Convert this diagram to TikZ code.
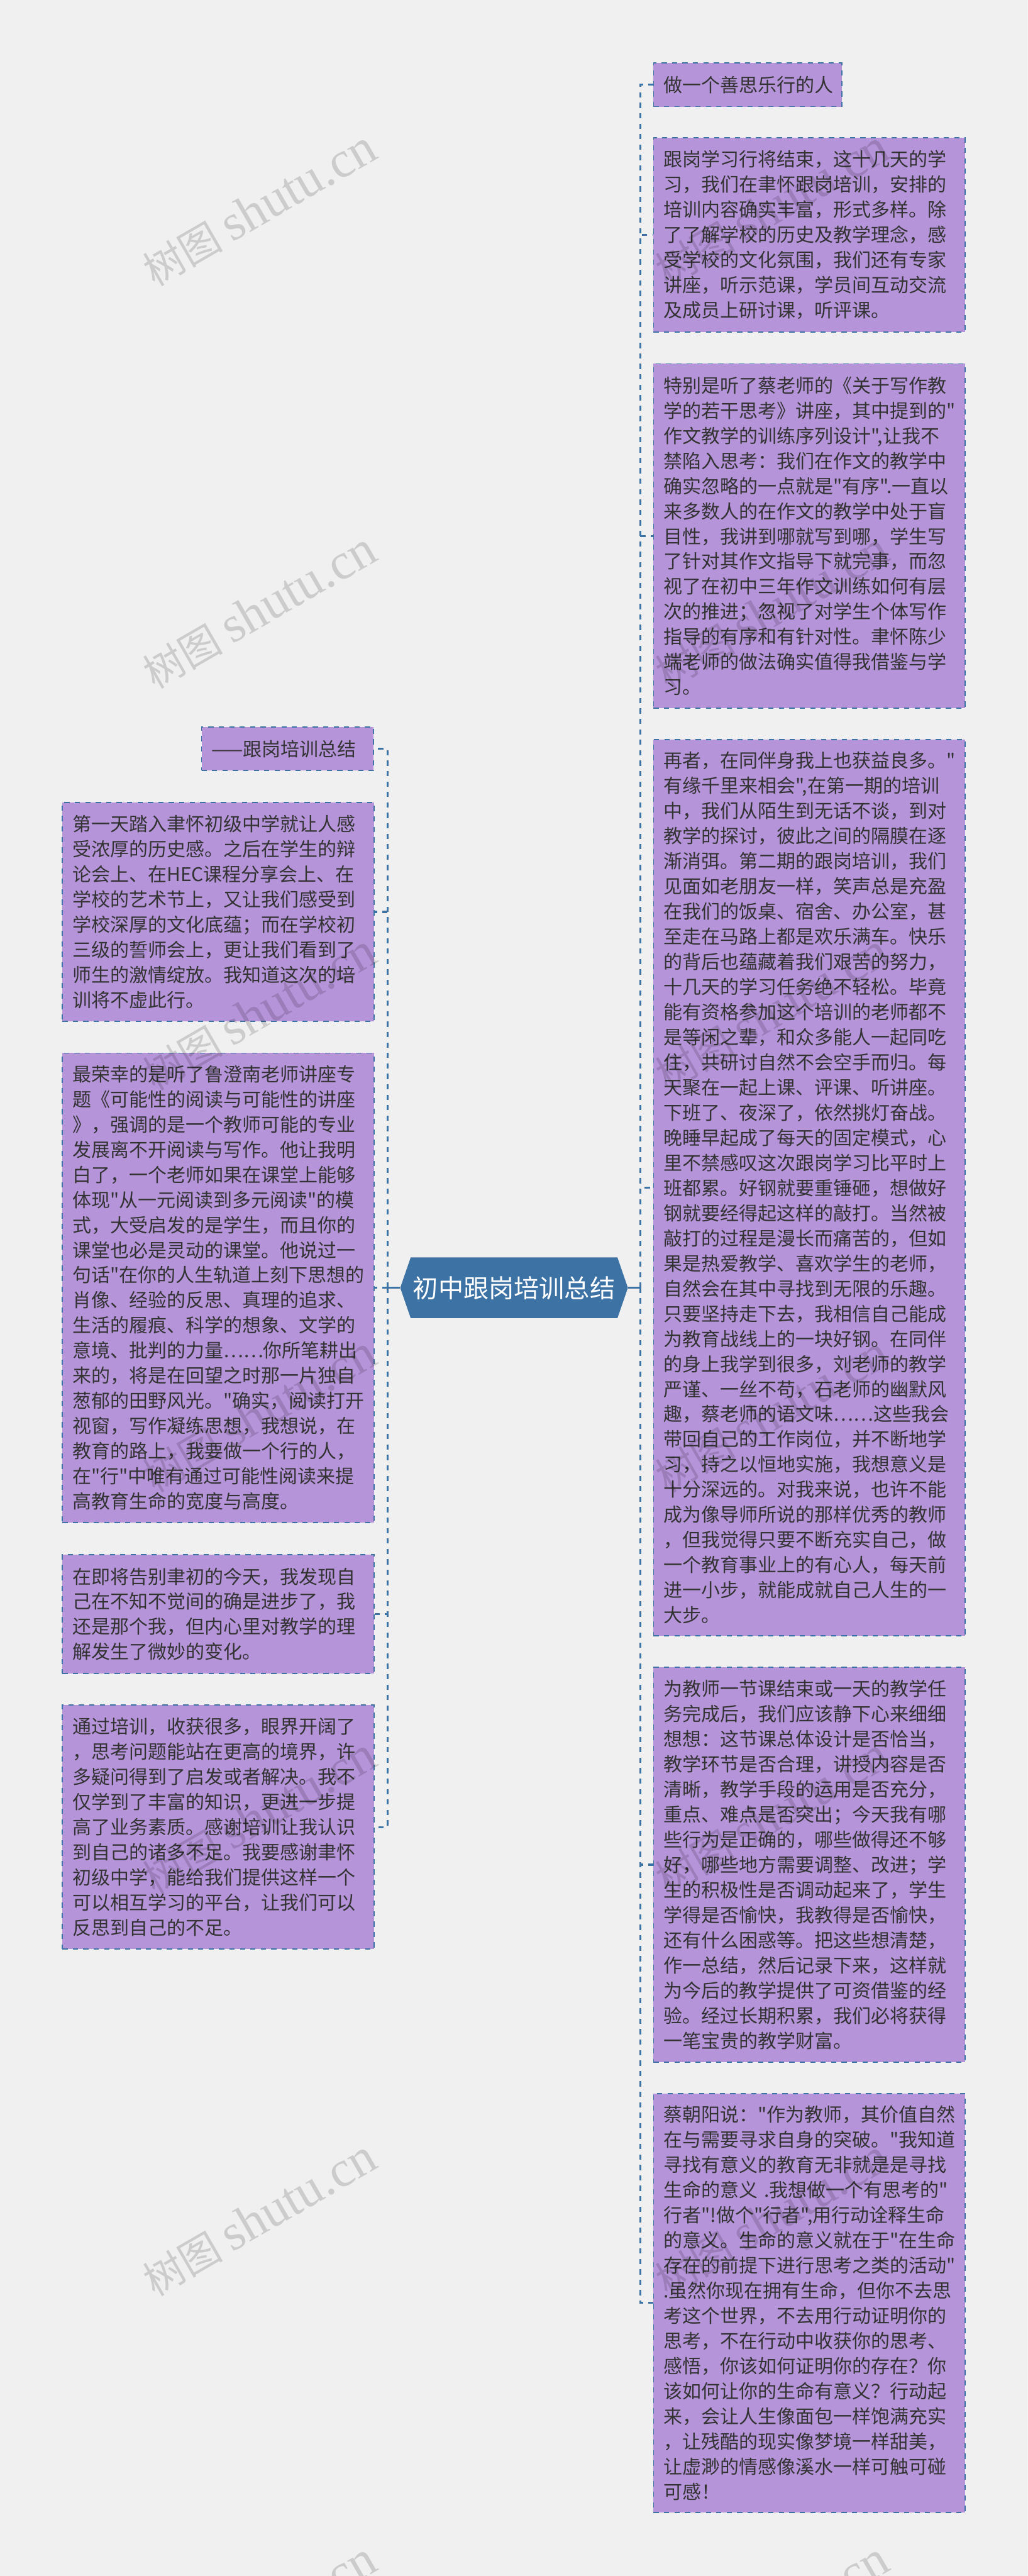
\documentclass[tikz,border=0pt]{standalone}
\usepackage{xcolor}
\usepackage{fontspec}
\usepackage{tikz}
\usetikzlibrary{shapes.symbols, positioning}
\newfontfamily\notefont{Noto Sans CJK SC}
\newfontfamily\wmlatin{Liberation Serif}
\definecolor{pagecolor}{RGB}{240, 240, 240}
\definecolor{leafcolor}{RGB}{181, 148, 218}
\definecolor{linecolor}{RGB}{61, 114, 165}
\definecolor{inkcolor}{RGB}{51, 51, 51}

\begin{document}
\begin{tikzpicture}[
    leaf/.style={draw=linecolor, fill=leafcolor, text=inkcolor, line width=.03cm, dash pattern=on .13cm off .13cm, inner xsep=.25cm, inner ysep=0pt, text width=7.26cm, minimum width=7.76cm, align=left, font=\notefont\fontsize{13.37}{17.81}\selectfont},
    topic/.style={shape=signal, signal to=west and east, signal pointer angle=142, fill=linecolor, text=white, inner sep=0pt, minimum width=5.67cm, minimum height=1.51cm, font=\notefont\fontsize{17.9}{22}\selectfont},
    link/.style={draw=linecolor, line width=.05cm, dash pattern=on .13cm off .13cm},
    stem/.style={draw=linecolor, line width=.05cm},
    wmark/.style={rotate=30, inner sep=0pt, text=black, text opacity=.15, font=\notefont\fontsize{28.5}{28.5}\selectfont}
]
\clip[use as bounding box] (0,0) rectangle (25.6,-64.15);
\fill[pagecolor] (0,0) rectangle (25.6,-64.15);

% Centre and branch points
\node[topic] (topic) at (12.805,-32.07) {初中跟岗培训总结};
\coordinate (ltrunk) at (9.65,-32.07);
\coordinate (rtrunk) at (15.95,-32.07);

% Left branch
\node[leaf, text width=3.79cm, minimum width=4.29cm, minimum height=1.08cm] (ltitle) at (7.165,-18.65) {——跟岗培训总结};
\node[leaf, minimum height=5.46cm] (lfirst) at (5.435,-22.71) {第一天踏入聿怀初级中学就让人感\\
受浓厚的历史感。之后在学生的辩\\
论会上、在HEC课程分享会上、在\\
学校的艺术节上，又让我们感受到\\
学校深厚的文化底蕴；而在学校初\\
三级的誓师会上，更让我们看到了\\
师生的激情绽放。我知道这次的培\\
训将不虚此行。};
\node[leaf, minimum height=11.69cm] (lread) at (5.435,-32.07) {最荣幸的是听了鲁澄南老师讲座专\\
题《可能性的阅读与可能性的讲座\\
》，强调的是一个教师可能的专业\\
发展离不开阅读与写作。他让我明\\
白了，一个老师如果在课堂上能够\\
体现"从一元阅读到多元阅读"的模\\
式，大受启发的是学生，而且你的\\
课堂也必是灵动的课堂。他说过一\\
句话"在你的人生轨道上刻下思想的\\
肖像、经验的反思、真理的追求、\\
生活的履痕、科学的想象、文学的\\
意境、批判的力量……你所笔耕出\\
来的，将是在回望之时那一片独自\\
葱郁的田野风光。"确实，阅读打开\\
视窗，写作凝练思想，我想说，在\\
教育的路上，我要做一个行的人，\\
在"行"中唯有通过可能性阅读来提\\
高教育生命的宽度与高度。};
\node[leaf, minimum height=2.95cm] (lchange) at (5.435,-40.195) {在即将告别聿初的今天，我发现自\\
己在不知不觉间的确是进步了，我\\
还是那个我，但内心里对教学的理\\
解发生了微妙的变化。};
\node[leaf, minimum height=6.08cm] (lgain) at (5.435,-45.5) {通过培训，收获很多，眼界开阔了\\
，思考问题能站在更高的境界，许\\
多疑问得到了启发或者解决。我不\\
仅学到了丰富的知识，更进一步提\\
高了业务素质。感谢培训让我认识\\
到自己的诸多不足。我要感谢聿怀\\
初级中学，能给我们提供这样一个\\
可以相互学习的平台，让我们可以\\
反思到自己的不足。};

% Right branch
\node[leaf, text width=4.19cm, minimum width=4.69cm, minimum height=1.09cm] (rtitle) at (18.625,-2.11) {做一个善思乐行的人};
\node[leaf, minimum height=4.84cm] (rstudy) at (20.16,-5.85) {跟岗学习行将结束，这十几天的学\\
习，我们在聿怀跟岗培训，安排的\\
培训内容确实丰富，形式多样。除\\
了了解学校的历史及教学理念，感\\
受学校的文化氛围，我们还有专家\\
讲座，听示范课，学员间互动交流\\
及成员上研讨课，听评课。};
\node[leaf, minimum height=8.58cm] (rwrite) at (20.16,-13.35) {特别是听了蔡老师的《关于写作教\\
学的若干思考》讲座，其中提到的"\\
作文教学的训练序列设计",让我不\\
禁陷入思考：我们在作文的教学中\\
确实忽略的一点就是"有序".一直以\\
来多数人的在作文的教学中处于盲\\
目性，我讲到哪就写到哪，学生写\\
了针对其作文指导下就完事，而忽\\
视了在初中三年作文训练如何有层\\
次的推进；忽视了对学生个体写作\\
指导的有序和有针对性。聿怀陈少\\
端老师的做法确实值得我借鉴与学\\
习。};
\node[leaf, minimum height=22.32cm] (rpeers) at (20.16,-29.58) {再者，在同伴身我上也获益良多。"\\
有缘千里来相会",在第一期的培训\\
中，我们从陌生到无话不谈，到对\\
教学的探讨，彼此之间的隔膜在逐\\
渐消弭。第二期的跟岗培训，我们\\
见面如老朋友一样，笑声总是充盈\\
在我们的饭桌、宿舍、办公室，甚\\
至走在马路上都是欢乐满车。快乐\\
的背后也蕴藏着我们艰苦的努力，\\
十几天的学习任务绝不轻松。毕竟\\
能有资格参加这个培训的老师都不\\
是等闲之辈，和众多能人一起同吃\\
住，共研讨自然不会空手而归。每\\
天聚在一起上课、评课、听讲座。\\
下班了、夜深了，依然挑灯奋战。\\
晚睡早起成了每天的固定模式，心\\
里不禁感叹这次跟岗学习比平时上\\
班都累。好钢就要重锤砸，想做好\\
钢就要经得起这样的敲打。当然被\\
敲打的过程是漫长而痛苦的，但如\\
果是热爱教学、喜欢学生的老师，\\
自然会在其中寻找到无限的乐趣。\\
只要坚持走下去，我相信自己能成\\
为教育战线上的一块好钢。在同伴\\
的身上我学到很多，刘老师的教学\\
严谨、一丝不苟，石老师的幽默风\\
趣，蔡老师的语文味……这些我会\\
带回自己的工作岗位，并不断地学\\
习，持之以恒地实施，我想意义是\\
十分深远的。对我来说，也许不能\\
成为像导师所说的那样优秀的教师\\
，但我觉得只要不断充实自己，做\\
一个教育事业上的有心人，每天前\\
进一小步，就能成就自己人生的一\\
大步。};
\node[leaf, minimum height=9.83cm] (rreflect) at (20.16,-46.435) {为教师一节课结束或一天的教学任\\
务完成后，我们应该静下心来细细\\
想想：这节课总体设计是否恰当，\\
教学环节是否合理，讲授内容是否\\
清晰，教学手段的运用是否充分，\\
重点、难点是否突出；今天我有哪\\
些行为是正确的，哪些做得还不够\\
好，哪些地方需要调整、改进；学\\
生的积极性是否调动起来了，学生\\
学得是否愉快，我教得是否愉快，\\
还有什么困惑等。把这些想清楚，\\
作一总结，然后记录下来，这样就\\
为今后的教学提供了可资借鉴的经\\
验。经过长期积累，我们必将获得\\
一笔宝贵的教学财富。};
\node[leaf, minimum height=10.44cm] (rmeaning) at (20.16,-57.35) {蔡朝阳说："作为教师，其价值自然\\
在与需要寻求自身的突破。"我知道\\
寻找有意义的教育无非就是是寻找\\
生命的意义~.我想做一个有思考的"\\
行者"!做个"行者",用行动诠释生命\\
的意义。生命的意义就在于"在生命\\
存在的前提下进行思考之类的活动"\\
.虽然你现在拥有生命，但你不去思\\
考这个世界，不去用行动证明你的\\
思考，不在行动中收获你的思考、\\
感悟，你该如何证明你的存在？你\\
该如何让你的生命有意义？行动起\\
来，会让人生像面包一样饱满充实\\
，让残酷的现实像梦境一样甜美，\\
让虚渺的情感像溪水一样可触可碰\\
可感！};

% Connectors
\draw[stem] (topic.west) -- (ltrunk);
\draw[stem] (topic.east) -- (rtrunk);
\draw[link] (ltrunk) |- (ltitle.east);
\draw[link] (ltrunk) |- (lfirst.east);
\draw[link] (ltrunk) -- (lread.east);
\draw[link] (ltrunk) |- (lchange.east);
\draw[link] (ltrunk) |- (lgain.east);
\draw[link] (rtrunk) |- (rtitle.west);
\draw[link] (rtrunk) |- (rstudy.west);
\draw[link] (rtrunk) |- (rwrite.west);
\draw[link] (rtrunk) |- (rpeers.west);
\draw[link] (rtrunk) |- (rreflect.west);
\draw[link] (rtrunk) |- (rmeaning.west);

% Watermarks
\node[wmark] (wmla) at (6.46,-5.19) {树图 {\wmlatin\fontsize{36}{36}\selectfont shutu.cn}};
\node[wmark] (wmlb) at (6.46,-15.20) {树图 {\wmlatin\fontsize{36}{36}\selectfont shutu.cn}};
\node[wmark] (wmlc) at (6.46,-25.21) {树图 {\wmlatin\fontsize{36}{36}\selectfont shutu.cn}};
\node[wmark] (wmld) at (6.46,-35.22) {树图 {\wmlatin\fontsize{36}{36}\selectfont shutu.cn}};
\node[wmark] (wmle) at (6.46,-45.23) {树图 {\wmlatin\fontsize{36}{36}\selectfont shutu.cn}};
\node[wmark] (wmlf) at (6.46,-55.24) {树图 {\wmlatin\fontsize{36}{36}\selectfont shutu.cn}};
\node[wmark] (wmlg) at (6.46,-65.25) {树图 {\wmlatin\fontsize{36}{36}\selectfont shutu.cn}};
\node[wmark] (wmra) at (19.23,-5.19) {树图 {\wmlatin\fontsize{36}{36}\selectfont shutu.cn}};
\node[wmark] (wmrb) at (19.23,-15.20) {树图 {\wmlatin\fontsize{36}{36}\selectfont shutu.cn}};
\node[wmark] (wmrc) at (19.23,-25.21) {树图 {\wmlatin\fontsize{36}{36}\selectfont shutu.cn}};
\node[wmark] (wmrd) at (19.23,-35.22) {树图 {\wmlatin\fontsize{36}{36}\selectfont shutu.cn}};
\node[wmark] (wmre) at (19.23,-45.23) {树图 {\wmlatin\fontsize{36}{36}\selectfont shutu.cn}};
\node[wmark] (wmrf) at (19.23,-55.24) {树图 {\wmlatin\fontsize{36}{36}\selectfont shutu.cn}};
\node[wmark] (wmrg) at (19.23,-65.25) {树图 {\wmlatin\fontsize{36}{36}\selectfont shutu.cn}};

\end{tikzpicture}
\end{document}
